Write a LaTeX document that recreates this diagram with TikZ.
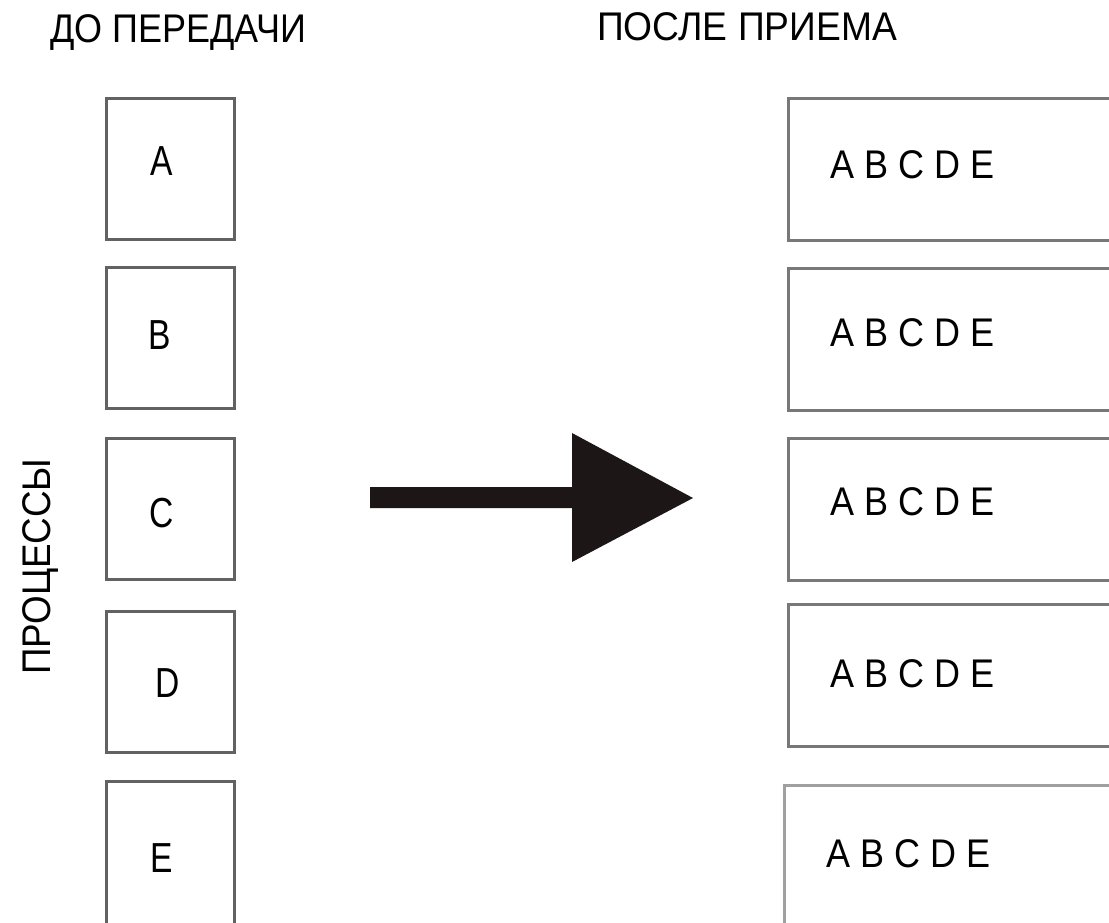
\documentclass[tikz,border=0pt]{standalone}
\usepackage{fontspec}
\setmainfont{Liberation Sans}
\definecolor{boxgray}{RGB}{98,98,98}
\definecolor{rboxgray}{RGB}{120,120,120}
\definecolor{arrowblk}{RGB}{28,22,22}
\begin{document}
\begin{tikzpicture}[x=1pt,y=-1pt,
  lbox/.style={draw=boxgray, line width=3pt, minimum width=128pt, minimum height=141pt, anchor=north west, inner sep=0pt},
  rbox/.style={draw=rboxgray, line width=3pt, minimum width=400pt, minimum height=142pt, anchor=north west, inner sep=0pt},
  letter/.style={anchor=base, inner sep=0pt, font=\fontsize{42}{42}\selectfont},
  seq/.style={anchor=base west, inner sep=0pt, font=\fontsize{40}{40}\selectfont},
  title/.style={anchor=base west, inner sep=0pt, font=\fontsize{40}{40}\selectfont}]
\useasboundingbox (0,0) rectangle (1109,922);
\fill[white] (0,0) rectangle (1109,922);
\clip (0,0) rectangle (1109,922);
% titles
\node[title] (t1) at (50,42) {\scalebox{0.9}[1]{ДО ПЕРЕДАЧИ}};
\node[title] (t2) at (597,40) {\scalebox{0.93}[1]{ПОСЛЕ ПРИЕМА}};
\node[title, rotate=90] (t3) at (50,675) {\scalebox{0.92}[1]{ПРОЦЕССЫ}};
% left boxes
\node[lbox] (bA) at (105,97) {};
\node[lbox] (bB) at (105,266) {};
\node[lbox] (bC) at (105,437) {};
\node[lbox] (bD) at (105,610) {};
\node[lbox, minimum height=170pt] (bE) at (105,780) {};
\node[letter] (lA) at (162,175) {\scalebox{0.8}[1]{A}};
\node[letter] (lB) at (160,349) {\scalebox{0.8}[1]{B}};
\node[letter] (lC) at (162,527) {\scalebox{0.8}[1]{C}};
\node[letter] (lD) at (168,697) {\scalebox{0.8}[1]{D}};
\node[letter] (lE) at (162,872) {\scalebox{0.8}[1]{E}};
% right boxes
\node[rbox] (rA) at (787,97) {};
\node[rbox] (rB) at (787,267) {};
\node[rbox] (rC) at (787,437) {};
\node[rbox] (rD) at (787,603) {};
\node[rbox, draw=rboxgray!70, minimum height=170pt] (rE) at (783,784) {};
\node[seq] (sA) at (830,178) {\scalebox{0.9}[1]{A B C D E}};
\node[seq] (sB) at (830,346) {\scalebox{0.9}[1]{A B C D E}};
\node[seq] (sC) at (830,515) {\scalebox{0.9}[1]{A B C D E}};
\node[seq] (sD) at (830,687) {\scalebox{0.9}[1]{A B C D E}};
\node[seq] (sE) at (826,867) {\scalebox{0.9}[1]{A B C D E}};
% big arrow
\fill[arrowblk] (370,487) -- (572,487) -- (572,433) -- (693,498) -- (572,562) -- (572,508) -- (370,508) -- cycle;
\end{tikzpicture}
\end{document}
